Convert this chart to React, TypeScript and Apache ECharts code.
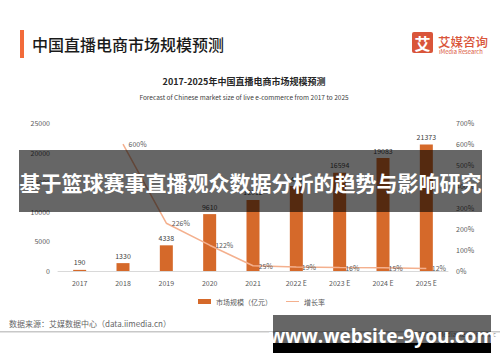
import React, { useEffect, useRef } from "react";
import * as echarts from "echarts";

const years = ["2017", "2018", "2019", "2020", "2021", "2022 E", "2023 E", "2024 E", "2025 E"];
const marketSize = [190, 1330, 4338, 9610, 12012, 14354, 16594, 19083, 21373];
const growthRate: (number | null)[] = [null, 600, 226, 122, 25, 19, 16, 15, 12];
const leftAxis = { min: 0, max: 25000, interval: 5000 };
const rightAxis = { min: 0, max: 700, interval: 100 };

const FONT = "'Noto Sans CJK SC', 'Noto Sans', sans-serif";
const ORANGE = "#D5692A";
const LINE = "#F4B08E";
const GREY = "#595959";

export default function App() {
  const ref = useRef<HTMLDivElement>(null);
  useEffect(() => {
    if (!ref.current) return;
    const chart = echarts.init(ref.current, undefined, { renderer: "svg" });
    chart.setOption({
      animation: false,
      backgroundColor: "#ffffff",
      textStyle: { fontFamily: FONT },
      grid: { left: 58, right: 52, top: 123, height: 148 },
      legend: {
        left: 193,
        top: 293,
        itemWidth: 13,
        itemHeight: 5,
        itemGap: 14,
        textStyle: { fontSize: 7, color: GREY, fontFamily: FONT },
        data: [
          { name: "市场规模（亿元）", icon: "rect" },
          { name: "增长率", icon: "path://M0,0H20V1.6H0Z", itemStyle: { color: LINE, opacity: 1 } },
        ],
      },
      xAxis: {
        type: "category",
        data: years,
        axisLine: { lineStyle: { color: "#d9d9d9" } },
        axisTick: { show: false },
        axisLabel: { fontSize: 7, color: GREY, margin: 8, fontFamily: FONT },
      },
      yAxis: [
        {
          type: "value",
          ...leftAxis,
          splitLine: { show: false },
          axisLine: { show: false },
          axisTick: { show: false },
          axisLabel: { fontSize: 7, color: GREY, margin: 8, fontFamily: FONT, formatter: (v: number) => String(v) },
        },
        {
          type: "value",
          ...rightAxis,
          splitLine: { show: false },
          axisLine: { show: false },
          axisTick: { show: false },
          axisLabel: { fontSize: 7, color: GREY, margin: 8, formatter: (v: number) => v + "%", fontFamily: FONT },
        },
      ],
      series: [
        {
          name: "市场规模（亿元）",
          type: "bar",
          data: marketSize,
          barWidth: 13,
          itemStyle: { color: ORANGE },
          label: { show: true, position: "top", fontSize: 7, color: "#404040", distance: 4, fontFamily: FONT },
        },
        {
          name: "增长率",
          type: "line",
          yAxisIndex: 1,
          data: growthRate.map((v, i) =>
            i === 2
              ? { value: v, label: { offset: [0, -12] } }
              : v
          ),
          symbol: "circle",
          symbolSize: 1,
          showSymbol: true,
          lineStyle: { color: LINE, width: 1.5 },
          itemStyle: { color: "rgba(0,0,0,0)" },
          label: {
            show: true,
            position: "right",
            distance: 5,
            fontSize: 7,
            color: GREY,
            formatter: (p: any) => p.value + "%",
            fontFamily: FONT,
          },
          labelLayout: { hideOverlap: false },
        },
      ],
      graphic: [
        { type: "rect", z: 50, shape: { x: 20, y: 30, width: 4, height: 28 }, style: { fill: "#F26B3A" } },
        {
          type: "text", z: 50, x: 32, y: 44,
          style: { text: "中国直播电商市场规模预测", fontSize: 16, fontFamily: FONT, fill: "#1a1a1a", verticalAlign: "middle", fontWeight: 500 },
        },
        { type: "rect", z: 50, shape: { x: 412, y: 32, width: 21, height: 21, r: 2 }, style: { fill: "#D9553A" } },
        {
          type: "text", z: 51, x: 422.5, y: 43,
          style: { text: "艾", fontSize: 16, fontWeight: "bold", fontFamily: FONT, fill: "#ffffff", align: "center", verticalAlign: "middle" },
        },
        {
          type: "text", z: 50, x: 438, y: 41,
          style: { text: "艾媒咨询", fontSize: 12.5, fontFamily: FONT, fill: "#D9553A", verticalAlign: "middle", fontWeight: 500 },
        },
        {
          type: "text", z: 50, x: 439, y: 51,
          style: { text: "iMedia Research", fontSize: 5.8, fontFamily: FONT, fill: "#D9553A", verticalAlign: "middle" },
        },
        {
          type: "text", z: 50, x: 244, y: 81,
          style: { text: "2017-2025年中国直播电商市场规模预测", fontSize: 9, fontWeight: "bold", fontFamily: FONT, fill: "#262626", align: "center", verticalAlign: "middle" },
        },
        {
          type: "text", z: 50, x: 244, y: 97,
          style: { text: "Forecast of Chinese market size of live e-commerce from 2017 to 2025", fontSize: 6.5, fontFamily: FONT, fill: "#404040", align: "center", verticalAlign: "middle" },
        },
        {
          type: "text", z: 50, x: 9, y: 323,
          style: { text: "数据来源：艾媒数据中心（data.iimedia.cn）", fontSize: 8, fontFamily: FONT, fill: "#666666", verticalAlign: "middle" },
        },
        { type: "rect", z: 50, shape: { x: 0, y: 331, width: 500, height: 1.5 }, style: { fill: "#c8c8c8" } },
        {
          type: "text", z: 50, x: 496, y: 334,
          style: { text: "©2021 iiMedia Research Inc", fontSize: 6.5, fontFamily: FONT, fill: "#777777", align: "right", verticalAlign: "middle" },
        },
        { type: "rect", z: 100, shape: { x: 19, y: 150, width: 463, height: 62 }, style: { fill: "rgba(0,0,0,0.6)" } },
        {
          type: "text", z: 101, x: 250.5, y: 182,
          style: { text: "基于篮球赛事直播观众数据分析的趋势与影响研究", fontSize: 21, fontWeight: "bold", fontFamily: FONT, fill: "#ffffff", align: "center", verticalAlign: "middle" },
        },
        { type: "rect", z: 100, shape: { x: 273, y: 315, width: 218, height: 28 }, style: { fill: "rgba(0,0,0,0.6)" } },
        { type: "rect", z: 100, shape: { x: 273, y: 343, width: 218, height: 10 }, style: { fill: "#000000" } },
        {
          type: "text", z: 101, x: 382, y: 336,
          style: { text: "www.website-9you.com", fontSize: 19, fontWeight: "bold", fontFamily: "'Open Sans', 'Liberation Sans', sans-serif", fill: "#ffffff", align: "center", verticalAlign: "middle" },
        },
      ],
    });
    return () => chart.dispose();
  }, []);
  return <div ref={ref} style={{ width: 500, height: 362, position: "absolute", left: 0, top: 0 }} />;
}
